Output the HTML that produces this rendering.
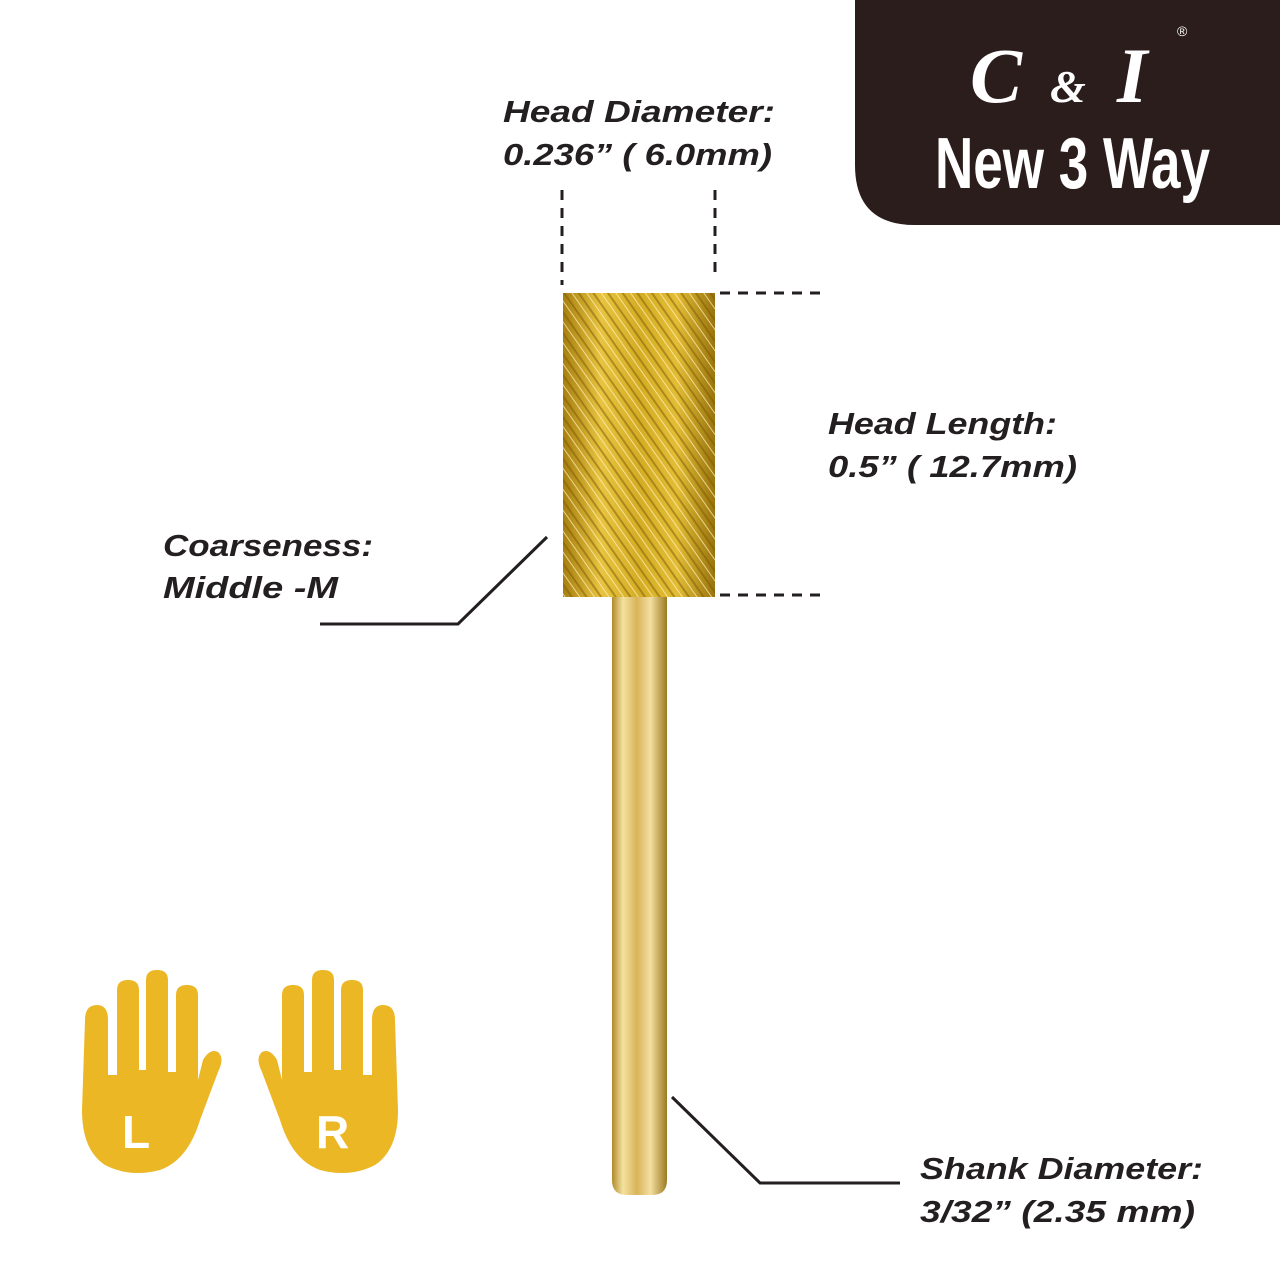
<!DOCTYPE html>
<html><head><meta charset="utf-8"><style>
html,body{margin:0;padding:0;background:#fff;}
svg{display:block}
.lbl{font-family:"Liberation Sans",sans-serif;font-size:31px;font-weight:bold;font-style:italic;fill:#231f20;}
</style></head><body>
<svg width="1280" height="1280" viewBox="0 0 1280 1280" xmlns="http://www.w3.org/2000/svg">
<defs>
<linearGradient id="sh" x1="0" x2="1" y1="0" y2="0">
<stop offset="0" stop-color="#b08a2a"/><stop offset="0.2" stop-color="#f4e2a0"/><stop offset="0.45" stop-color="#d9b45a"/><stop offset="0.7" stop-color="#f3dfa0"/><stop offset="1" stop-color="#9c7a22"/>
</linearGradient>
<linearGradient id="hd" x1="0" x2="1" y1="0" y2="0">
<stop offset="0" stop-color="#a87f10"/><stop offset="0.25" stop-color="#e8c440"/><stop offset="0.5" stop-color="#d4ad25"/><stop offset="0.75" stop-color="#e3bd35"/><stop offset="1" stop-color="#9a740c"/>
</linearGradient>
<pattern id="knurl" width="12" height="12" patternUnits="userSpaceOnUse" patternTransform="rotate(-35)">
<line x1="0" y1="0" x2="0" y2="12" stroke="#fff4c0" stroke-width="2" opacity="0.7"/>
<line x1="6" y1="0" x2="6" y2="12" stroke="#7a5a05" stroke-width="2" opacity="0.5"/>
</pattern>
</defs>
<path d="M855 0 H1280 V225 H915 Q855 225 855 165 Z" fill="#2b1d1b"/>
<text x="970" y="102" style="font-family:'Liberation Serif',serif;font-style:italic;font-weight:bold;font-size:78px" fill="#fff">C</text>
<text x="1050" y="102" style="font-family:'Liberation Serif',serif;font-style:italic;font-weight:bold;font-size:46px" fill="#fff">&amp;</text>
<text x="1117" y="102" style="font-family:'Liberation Serif',serif;font-style:italic;font-weight:bold;font-size:78px" fill="#fff">I</text>
<text x="1177" y="36" style="font-family:'Liberation Sans',sans-serif;font-size:14px" fill="#fff">®</text>
<text x="935" y="188" textLength="275" lengthAdjust="spacingAndGlyphs" style="font-family:'Liberation Sans',sans-serif;font-size:72px;font-weight:bold" fill="#fff">New 3 Way</text>
<g stroke="#231f20" stroke-width="3" stroke-dasharray="10,8" fill="none">
<line x1="562" y1="190" x2="562" y2="285"/>
<line x1="715" y1="190" x2="715" y2="278"/>
<line x1="720" y1="293" x2="825" y2="293"/>
<line x1="720" y1="595" x2="825" y2="595"/>
</g>
<g stroke="#231f20" stroke-width="3" fill="none">
<polyline points="320,624 458,624 547,537"/>
<polyline points="672,1097 760,1183 900,1183"/>
</g>
<path d="M612 597 H667 V1180 Q667 1195 652 1195 H627 Q612 1195 612 1180 Z" fill="url(#sh)"/>
<rect x="563" y="293" width="152" height="304" fill="url(#hd)"/>
<rect x="563" y="293" width="152" height="304" fill="url(#knurl)"/>
<text class="lbl" x="503" y="122" textLength="272" lengthAdjust="spacingAndGlyphs">Head Diameter:</text>
<text class="lbl" x="503" y="165" textLength="269" lengthAdjust="spacingAndGlyphs">0.236” ( 6.0mm)</text>
<text class="lbl" x="828" y="434" textLength="229" lengthAdjust="spacingAndGlyphs">Head Length:</text>
<text class="lbl" x="828" y="477" textLength="249" lengthAdjust="spacingAndGlyphs">0.5” ( 12.7mm)</text>
<text class="lbl" x="163" y="556" textLength="210" lengthAdjust="spacingAndGlyphs">Coarseness:</text>
<text class="lbl" x="163" y="598" textLength="175" lengthAdjust="spacingAndGlyphs">Middle -M</text>
<text class="lbl" x="920" y="1179" textLength="283" lengthAdjust="spacingAndGlyphs">Shank Diameter:</text>
<text class="lbl" x="920" y="1222" textLength="275" lengthAdjust="spacingAndGlyphs">3/32” (2.35 mm)</text>
<g fill="#ebb725">
<path d="M85 1020 Q85 1005 97 1005 Q108 1005 108 1020 V1075 H117 V990 Q117 980 128 980 Q139 980 139 990 V1070 H146 V980 Q146 970 157 970 Q168 970 168 980 V1072 H176 V995 Q176 985 187 985 Q198 985 198 995 V1080 L203 1060 Q210 1048 218 1052 Q225 1058 218 1072 L200 1120 Q188 1160 160 1170 Q130 1178 105 1165 Q82 1150 82 1110 Z"/>
<path d="M395 1020 Q395 1005 383 1005 Q372 1005 372 1020 V1075 H363 V990 Q363 980 352 980 Q341 980 341 990 V1070 H334 V980 Q334 970 323 970 Q312 970 312 980 V1072 H304 V995 Q304 985 293 985 Q282 985 282 995 V1080 L277 1060 Q270 1048 262 1052 Q255 1058 262 1072 L280 1120 Q292 1160 320 1170 Q350 1178 375 1165 Q398 1150 398 1110 Z"/>
</g>
<text x="122" y="1148" style="font-family:'Liberation Sans',sans-serif;font-size:46px;font-weight:bold" fill="#fff">L</text>
<text x="316" y="1148" style="font-family:'Liberation Sans',sans-serif;font-size:46px;font-weight:bold" fill="#fff">R</text>
</svg>
</body></html>
